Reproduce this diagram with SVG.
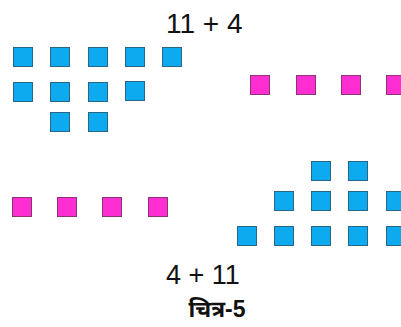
<svg xmlns="http://www.w3.org/2000/svg" width="401" height="327" viewBox="0 0 401 327">
<style>
.b{fill:#0daaf0;stroke:#2a6585;stroke-width:1}
.p{fill:#ff2ed2;stroke:#8a3572;stroke-width:1}
.t{font-family:"Liberation Sans",Arial,sans-serif;fill:#111}
.h{font-family:"Noto Sans Devanagari","Noto Sans","Lohit Devanagari",sans-serif;font-weight:bold;fill:#111}
.n{font-family:"Liberation Sans",Arial,sans-serif;font-weight:bold}
</style>
<rect width="401" height="327" fill="#fff"/>
<g id="label-top"><text class="t" x="166" y="32.5" font-size="28">11 + 4</text></g>
<g id="blue-top">
<rect class="b" x="13.5" y="47.5" width="19" height="19"/>
<rect class="b" x="50.5" y="47.5" width="19" height="19"/>
<rect class="b" x="88.5" y="47.5" width="19" height="19"/>
<rect class="b" x="125.5" y="47.5" width="19" height="19"/>
<rect class="b" x="162.5" y="47.5" width="19" height="19"/>
<rect class="b" x="13.5" y="82.5" width="19" height="19"/>
<rect class="b" x="50.5" y="82.5" width="19" height="19"/>
<rect class="b" x="88.5" y="82.5" width="19" height="19"/>
<rect class="b" x="125.5" y="81.5" width="19" height="19"/>
<rect class="b" x="50.5" y="112.5" width="19" height="19"/>
<rect class="b" x="88.5" y="112.5" width="19" height="19"/>
</g>
<g id="pink-top">
<rect class="p" x="250.5" y="75.5" width="19" height="19"/>
<rect class="p" x="296.5" y="75.5" width="19" height="19"/>
<rect class="p" x="341.5" y="75.5" width="19" height="19"/>
<rect class="p" x="386.5" y="75.5" width="19" height="19"/>
</g>
<g id="pink-bottom">
<rect class="p" x="12.5" y="197.5" width="19" height="19"/>
<rect class="p" x="57.5" y="197.5" width="19" height="19"/>
<rect class="p" x="102.5" y="197.5" width="19" height="19"/>
<rect class="p" x="148.5" y="197.5" width="19" height="19"/>
</g>
<g id="blue-bottom">
<rect class="b" x="311.5" y="161.5" width="19" height="19"/>
<rect class="b" x="348.5" y="161.5" width="19" height="19"/>
<rect class="b" x="274.5" y="191.5" width="19" height="19"/>
<rect class="b" x="311.5" y="191.5" width="19" height="19"/>
<rect class="b" x="348.5" y="191.5" width="19" height="19"/>
<rect class="b" x="386.5" y="191.5" width="19" height="19"/>
<rect class="b" x="237.5" y="226.5" width="19" height="19"/>
<rect class="b" x="274.5" y="226.5" width="19" height="19"/>
<rect class="b" x="311.5" y="226.5" width="19" height="19"/>
<rect class="b" x="348.5" y="226.5" width="19" height="19"/>
<rect class="b" x="386.5" y="226.5" width="19" height="19"/>
</g>
<g id="label-bottom"><text class="t" x="166" y="283.5" font-size="27">4 + 11</text></g>
<g id="caption"><text class="h" x="217" y="317" font-size="23" text-anchor="middle">चित्र<tspan class="n">-5</tspan></text></g>
</svg>
